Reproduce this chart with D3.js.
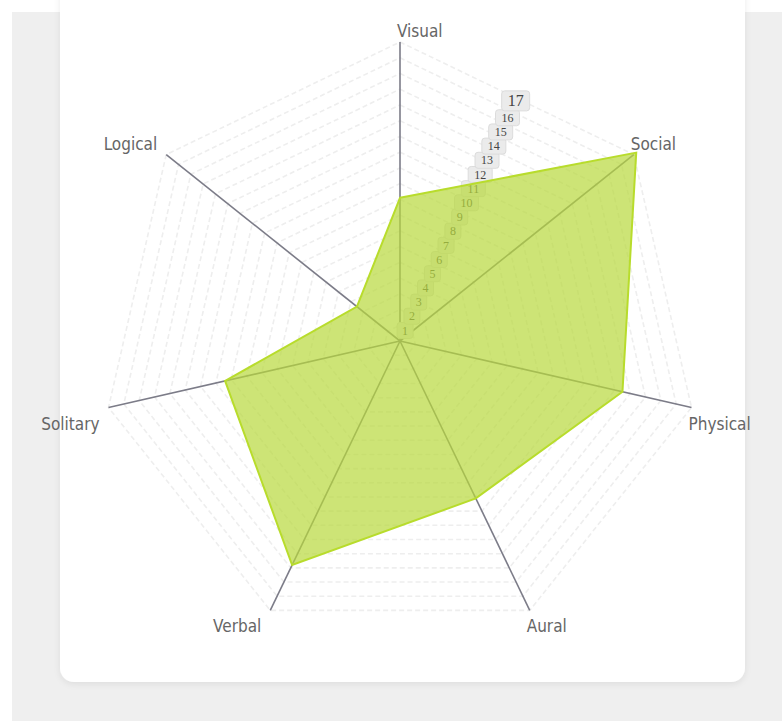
<!DOCTYPE html>
<html>
<head>
<meta charset="utf-8">
<script src="https://cdn.jsdelivr.net/npm/d3@7"></script>
<style>
  html, body { margin: 0; padding: 0; background: #ffffff; }
  svg { display: block; }
</style>
</head>
<body>
<svg id="chart" width="782" height="722"></svg>
<script>
// ---- data ----
const axes = ["Visual", "Social", "Physical", "Aural", "Verbal", "Solitary", "Logical"];
const values = [9.1, 19.2, 14.5, 11.1, 15.8, 11.4, 3.5];
const tickLabels = [1, 2, 3, 4, 5, 6, 7, 8, 9, 10, 11, 12, 13, 14, 15, 16, 17];
const gridLevels = d3.range(1, 20);
const maxValue = 19;

const svg = d3.select("#chart");
const W = 782, H = 722;

// background panels
svg.append("rect").attr("x", 12).attr("y", 12).attr("width", W - 12).attr("height", 709).attr("fill", "#efefef");
const defs = svg.append("defs");
const f = defs.append("filter").attr("id", "shadow").attr("x", "-5%").attr("y", "-5%").attr("width", "110%").attr("height", "110%");
f.append("feDropShadow").attr("dx", 0).attr("dy", 2).attr("stdDeviation", 3).attr("flood-color", "#000").attr("flood-opacity", 0.08);
svg.append("rect").attr("x", 60).attr("y", -20).attr("width", 685).attr("height", 702)
  .attr("rx", 14).attr("fill", "#ffffff").attr("filter", "url(#shadow)");

const cx = 400, cy = 341, R = 299;
const r = d3.scaleLinear().domain([0, maxValue]).range([0, R]);
const angle = d3.scaleLinear().domain([0, axes.length]).range([0, 2 * Math.PI]);
const pt = (i, v) => {
  const a = angle(i);
  return [cx + r(v) * Math.sin(a), cy - r(v) * Math.cos(a)];
};

const g = svg.append("g");

// grid polygons
const line = d3.line();
g.selectAll("path.grid").data(gridLevels).enter().append("path")
  .attr("class", "grid")
  .attr("d", lv => line(axes.map((_, i) => pt(i, lv))) + "Z")
  .attr("fill", "none")
  .attr("stroke", "#eeeeee")
  .attr("stroke-width", 1.6)
  .attr("stroke-dasharray", "5,3");

// axis lines
g.selectAll("line.axis").data(axes).enter().append("line")
  .attr("x1", cx).attr("y1", cy)
  .attr("x2", (d, i) => pt(i, maxValue)[0])
  .attr("y2", (d, i) => pt(i, maxValue)[1])
  .attr("stroke", "#7c7c88")
  .attr("stroke-width", 1.6);

// tick labels along the bisector between Visual and Social
const tickAngle = angle(0.5);
const tg = g.selectAll("g.tick").data(tickLabels).enter().append("g")
  .attr("transform", v => {
    const rr = r(v) - 4 + (v === 17 ? 3 : 0);
    return `translate(${cx + rr * Math.sin(tickAngle)},${cy - rr * Math.cos(tickAngle)})`;
  });
tg.append("rect")
  .attr("x", v => v < 10 ? -8 : (v === 17 ? -14 : -12)).attr("y", v => v === 17 ? -10 : -8)
  .attr("width", v => v < 10 ? 16 : (v === 17 ? 28 : 24)).attr("height", v => v === 17 ? 20 : 16).attr("rx", 3)
  .attr("fill", "#ebebeb").attr("stroke", "#dcdcdc").attr("stroke-width", 1);
tg.append("text")
  .attr("text-anchor", "middle").attr("dy", "0.35em")
  .attr("font-family", "'Liberation Serif', serif")
  .attr("font-size", v => v === 17 ? 16 : 12)
  .attr("fill", "#444")
  .text(v => v);

// data polygon
g.append("path")
  .attr("d", line(values.map((v, i) => pt(i, v))) + "Z")
  .attr("fill", "rgb(184,216,60)")
  .attr("fill-opacity", 0.7)
  .attr("stroke", "#b8dc2c")
  .attr("stroke-width", 2);

// axis labels
g.selectAll("text.lab").data(axes).enter().append("text")
  .attr("class", "lab")
  .attr("font-family", "'DejaVu Sans Condensed', 'Liberation Sans Narrow', sans-serif")
  .attr("font-size", 17)
  .attr("fill", "#666")
  .attr("text-anchor", (d, i) => pt(i, maxValue)[0] >= cx - 1 ? "start" : "end")
  .attr("x", (d, i) => {
    const p = pt(i, maxValue);
    if (i === 0) return p[0] - 3;
    return p[0] >= cx ? p[0] - 3 : p[0] - 9;
  })
  .attr("y", (d, i) => {
    const p = pt(i, maxValue);
    return p[1] < cy ? p[1] - 5 : p[1] + 22;
  })
  .text(d => d);
</script>
</body>
</html>
